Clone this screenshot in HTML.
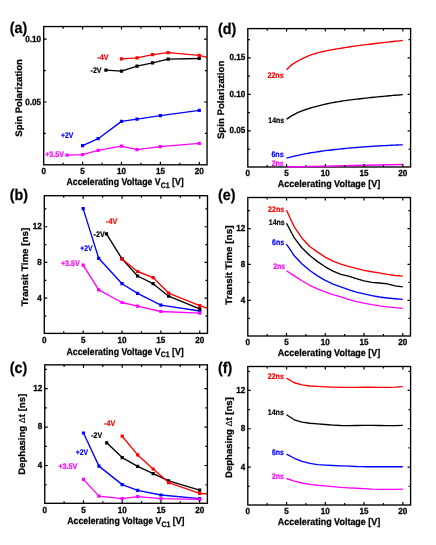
<!DOCTYPE html>
<html><head><meta charset="utf-8"><title>figure</title>
<style>html,body{margin:0;padding:0;background:#fff}svg{display:block;will-change:transform;text-rendering:geometricPrecision}text{font-family:"Liberation Sans",sans-serif;font-weight:bold}</style></head><body>
<svg width="436" height="545" viewBox="0 0 436 545">
<rect x="0" y="0" width="436" height="545" fill="#ffffff"/>
<g>
<polyline fill="none" stroke="#ff0000" stroke-width="1.35" stroke-linejoin="round" points="121.49,58.9 137.04,57.9 152.6,54.6 168.16,52.6 199.27,55.3 207.05,57.4"/>
<path d="M119.89 57.3h3.2v3.2h-3.2zM135.44 56.3h3.2v3.2h-3.2zM151 53h3.2v3.2h-3.2zM166.56 51h3.2v3.2h-3.2zM197.67 53.7h3.2v3.2h-3.2z" fill="#ff0000"/>
<polyline fill="none" stroke="#000000" stroke-width="1.35" stroke-linejoin="round" points="105.93,70.2 121.49,71.1 137.04,66.2 152.6,62.9 168.16,59.2 199.27,58.5"/>
<path d="M104.33 68.6h3.2v3.2h-3.2zM119.89 69.5h3.2v3.2h-3.2zM135.44 64.6h3.2v3.2h-3.2zM151 61.3h3.2v3.2h-3.2zM166.56 57.6h3.2v3.2h-3.2zM197.67 56.9h3.2v3.2h-3.2z" fill="#000000"/>
<polyline fill="none" stroke="#0000ff" stroke-width="1.35" stroke-linejoin="round" points="82.59,145.7 98.15,138.7 121.49,121.4 137.04,119.2 160.38,115.6 199.27,110.4"/>
<path d="M80.99 144.1h3.2v3.2h-3.2zM96.55 137.1h3.2v3.2h-3.2zM119.89 119.8h3.2v3.2h-3.2zM135.44 117.6h3.2v3.2h-3.2zM158.78 114h3.2v3.2h-3.2zM197.67 108.8h3.2v3.2h-3.2z" fill="#0000ff"/>
<polyline fill="none" stroke="#ff00ff" stroke-width="1.35" stroke-linejoin="round" points="67.04,155.2 82.59,154.6 98.15,150.3 121.49,146.2 137.04,149.7 160.38,146.7 199.27,143.3"/>
<path d="M65.44 153.6h3.2v3.2h-3.2zM80.99 153h3.2v3.2h-3.2zM96.55 148.7h3.2v3.2h-3.2zM119.89 144.6h3.2v3.2h-3.2zM135.44 148.1h3.2v3.2h-3.2zM158.78 145.1h3.2v3.2h-3.2zM197.67 141.7h3.2v3.2h-3.2z" fill="#ff00ff"/>
<text transform="translate(97.28 59.6) scale(0.889 1)" font-size="8.1" fill="#ff0000" stroke="#ff0000" stroke-width="0.2">-4V</text>
<text transform="translate(90.59 72.7) scale(0.872 1)" font-size="8.1" stroke="#000000" stroke-width="0.2">-2V</text>
<text transform="translate(60.89 138) scale(0.846 1)" font-size="8.1" fill="#0000ff" stroke="#0000ff" stroke-width="0.2">+2V</text>
<text transform="translate(45.19 157.2) scale(0.879 1)" font-size="8.1" fill="#ff00ff" stroke="#ff00ff" stroke-width="0.2">+3.5V</text>
<rect x="43.7" y="26.55" width="163.35" height="138.25" fill="none" stroke="#000" stroke-width="1.35"/>
<path d="M63.15 164.8v-2.1M63.15 26.55v2.1M82.59 164.8v-3M82.59 26.55v3M102.04 164.8v-2.1M102.04 26.55v2.1M121.49 164.8v-3M121.49 26.55v3M140.93 164.8v-2.1M140.93 26.55v2.1M160.38 164.8v-3M160.38 26.55v3M179.82 164.8v-2.1M179.82 26.55v2.1M199.27 164.8v-3M199.27 26.55v3M43.7 133.4h2.1M207.05 133.4h-2.1M43.7 102h3M207.05 102h-3M43.7 70.6h2.1M207.05 70.6h-2.1M43.7 39.2h3M207.05 39.2h-3" fill="none" stroke="#000" stroke-width="1.2"/>
<text transform="translate(43.7 174.1) scale(0.920 1)" font-size="8.8" text-anchor="middle" stroke="#000" stroke-width="0.3">0</text>
<text transform="translate(82.59 174.1) scale(0.920 1)" font-size="8.8" text-anchor="middle" stroke="#000" stroke-width="0.3">5</text>
<text transform="translate(121.49 174.1) scale(0.920 1)" font-size="8.8" text-anchor="middle" stroke="#000" stroke-width="0.3">10</text>
<text transform="translate(160.38 174.1) scale(0.920 1)" font-size="8.8" text-anchor="middle" stroke="#000" stroke-width="0.3">15</text>
<text transform="translate(199.27 174.1) scale(0.920 1)" font-size="8.8" text-anchor="middle" stroke="#000" stroke-width="0.3">20</text>
<text transform="translate(41.1 104.85) scale(0.920 1)" font-size="8.8" text-anchor="end" stroke="#000" stroke-width="0.3">0.05</text>
<text transform="translate(41.1 42.05) scale(0.920 1)" font-size="8.8" text-anchor="end" stroke="#000" stroke-width="0.3">0.10</text>
<text transform="translate(125.1 185.35) scale(0.894 1)" font-size="9.8" text-anchor="middle" stroke="#000" stroke-width="0.25">Accelerating Voltage V<tspan dy="2.9" font-size="7.84">C1</tspan><tspan dy="-2.9"> [V]</tspan></text>
<text transform="translate(21.8 97.9) rotate(-90) scale(1.018 1)" font-size="9.41" text-anchor="middle" stroke="#000" stroke-width="0.25">Spin Polarization</text>
<text transform="translate(9.8 33.3) scale(0.930 1)" font-size="15.4" stroke="#000" stroke-width="0.25">(a)</text>
</g>
<g>
<polyline fill="none" stroke="#0000ff" stroke-width="1.35" stroke-linejoin="round" points="83.16,208.6 98.7,258.3 122.01,283.7 137.56,293.4 160.87,305.1 199.73,311"/>
<path d="M81.56 207h3.2v3.2h-3.2zM97.1 256.7h3.2v3.2h-3.2zM120.41 282.1h3.2v3.2h-3.2zM135.96 291.8h3.2v3.2h-3.2zM159.27 303.5h3.2v3.2h-3.2zM198.13 309.4h3.2v3.2h-3.2z" fill="#0000ff"/>
<polyline fill="none" stroke="#ff00ff" stroke-width="1.35" stroke-linejoin="round" points="83.16,265.1 98.7,289.9 122.01,302.5 137.56,306.1 160.87,311.5 199.73,313.2"/>
<path d="M81.56 263.5h3.2v3.2h-3.2zM97.1 288.3h3.2v3.2h-3.2zM120.41 300.9h3.2v3.2h-3.2zM135.96 304.5h3.2v3.2h-3.2zM159.27 309.9h3.2v3.2h-3.2zM198.13 311.6h3.2v3.2h-3.2z" fill="#ff00ff"/>
<polyline fill="none" stroke="#000000" stroke-width="1.35" stroke-linejoin="round" points="106.47,233.9 122.01,258.9 137.56,276 153.1,283.7 168.64,296.2 199.73,308.9"/>
<path d="M104.87 232.3h3.2v3.2h-3.2zM120.41 257.3h3.2v3.2h-3.2zM135.96 274.4h3.2v3.2h-3.2zM151.5 282.1h3.2v3.2h-3.2zM167.04 294.6h3.2v3.2h-3.2zM198.13 307.3h3.2v3.2h-3.2z" fill="#000000"/>
<polyline fill="none" stroke="#ff0000" stroke-width="1.35" stroke-linejoin="round" points="122.01,259 137.56,271.5 153.1,277.6 168.64,293.1 199.73,305.7 207.5,308.4"/>
<path d="M120.41 257.4h3.2v3.2h-3.2zM135.96 269.9h3.2v3.2h-3.2zM151.5 276h3.2v3.2h-3.2zM167.04 291.5h3.2v3.2h-3.2zM198.13 304.1h3.2v3.2h-3.2z" fill="#ff0000"/>
<text transform="translate(105.98 223.6) scale(0.897 1)" font-size="8.1" fill="#ff0000" stroke="#ff0000" stroke-width="0.2">-4V</text>
<text transform="translate(93.48 236.8) scale(0.897 1)" font-size="8.1" stroke="#000000" stroke-width="0.2">-2V</text>
<text transform="translate(80.3 250.7) scale(0.839 1)" font-size="8.1" fill="#0000ff" stroke="#0000ff" stroke-width="0.2">+2V</text>
<text transform="translate(60.89 266.3) scale(0.879 1)" font-size="8.1" fill="#ff00ff" stroke="#ff00ff" stroke-width="0.2">+3.5V</text>
<rect x="44.3" y="195.7" width="163.2" height="137.7" fill="none" stroke="#000" stroke-width="1.35"/>
<path d="M63.73 333.4v-2.1M63.73 195.7v2.1M83.16 333.4v-3M83.16 195.7v3M102.59 333.4v-2.1M102.59 195.7v2.1M122.01 333.4v-3M122.01 195.7v3M141.44 333.4v-2.1M141.44 195.7v2.1M160.87 333.4v-3M160.87 195.7v3M180.3 333.4v-2.1M180.3 195.7v2.1M199.73 333.4v-3M199.73 195.7v3M44.3 316.04h2.1M207.5 316.04h-2.1M44.3 298.18h3M207.5 298.18h-3M44.3 280.32h2.1M207.5 280.32h-2.1M44.3 262.46h3M207.5 262.46h-3M44.3 244.6h2.1M207.5 244.6h-2.1M44.3 226.74h3M207.5 226.74h-3M44.3 208.88h2.1M207.5 208.88h-2.1" fill="none" stroke="#000" stroke-width="1.2"/>
<text transform="translate(44.3 342.7) scale(0.920 1)" font-size="8.8" text-anchor="middle" stroke="#000" stroke-width="0.3">0</text>
<text transform="translate(83.16 342.7) scale(0.920 1)" font-size="8.8" text-anchor="middle" stroke="#000" stroke-width="0.3">5</text>
<text transform="translate(122.01 342.7) scale(0.920 1)" font-size="8.8" text-anchor="middle" stroke="#000" stroke-width="0.3">10</text>
<text transform="translate(160.87 342.7) scale(0.920 1)" font-size="8.8" text-anchor="middle" stroke="#000" stroke-width="0.3">15</text>
<text transform="translate(199.73 342.7) scale(0.920 1)" font-size="8.8" text-anchor="middle" stroke="#000" stroke-width="0.3">20</text>
<text transform="translate(41.7 300.53) scale(0.920 1)" font-size="8.8" text-anchor="end" stroke="#000" stroke-width="0.3">4</text>
<text transform="translate(41.7 264.81) scale(0.920 1)" font-size="8.8" text-anchor="end" stroke="#000" stroke-width="0.3">8</text>
<text transform="translate(41.7 229.09) scale(0.920 1)" font-size="8.8" text-anchor="end" stroke="#000" stroke-width="0.3">12</text>
<text transform="translate(125.1 354.55) scale(0.894 1)" font-size="9.8" text-anchor="middle" stroke="#000" stroke-width="0.25">Accelerating Voltage V<tspan dy="2.9" font-size="7.84">C1</tspan><tspan dy="-2.9"> [V]</tspan></text>
<text transform="translate(27.9 266.9) rotate(-90) scale(1.045 1)" font-size="9.41" text-anchor="middle" stroke="#000" stroke-width="0.25">Transit Time [ns]</text>
<text transform="translate(9.8 200.2) scale(0.930 1)" font-size="15.4" stroke="#000" stroke-width="0.25">(b)</text>
</g>
<g>
<polyline fill="none" stroke="#0000ff" stroke-width="1.35" stroke-linejoin="round" points="83.48,433 98.97,466.1 122.2,484.6 137.69,490.3 160.93,495 199.65,498.6"/>
<path d="M81.88 431.4h3.2v3.2h-3.2zM97.37 464.5h3.2v3.2h-3.2zM120.6 483h3.2v3.2h-3.2zM136.09 488.7h3.2v3.2h-3.2zM159.33 493.4h3.2v3.2h-3.2zM198.05 497h3.2v3.2h-3.2z" fill="#0000ff"/>
<polyline fill="none" stroke="#ff00ff" stroke-width="1.35" stroke-linejoin="round" points="83.48,479.4 98.97,496.1 122.2,498.6 137.69,496.7 160.93,498.6 199.65,499.4"/>
<path d="M81.88 477.8h3.2v3.2h-3.2zM97.37 494.5h3.2v3.2h-3.2zM120.6 497h3.2v3.2h-3.2zM136.09 495.1h3.2v3.2h-3.2zM159.33 497h3.2v3.2h-3.2zM198.05 497.8h3.2v3.2h-3.2z" fill="#ff00ff"/>
<polyline fill="none" stroke="#000000" stroke-width="1.35" stroke-linejoin="round" points="106.71,442.8 122.2,457.6 137.69,466.3 153.18,473.6 168.67,480.8 199.65,490.1"/>
<path d="M105.11 441.2h3.2v3.2h-3.2zM120.6 456h3.2v3.2h-3.2zM136.09 464.7h3.2v3.2h-3.2zM151.58 472h3.2v3.2h-3.2zM167.07 479.2h3.2v3.2h-3.2zM198.05 488.5h3.2v3.2h-3.2z" fill="#000000"/>
<polyline fill="none" stroke="#ff0000" stroke-width="1.35" stroke-linejoin="round" points="122.2,436.2 137.69,454.9 153.18,469 168.67,482.6 199.65,493.4 207.4,494"/>
<path d="M120.6 434.6h3.2v3.2h-3.2zM136.09 453.3h3.2v3.2h-3.2zM151.58 467.4h3.2v3.2h-3.2zM167.07 481h3.2v3.2h-3.2zM198.05 491.8h3.2v3.2h-3.2z" fill="#ff0000"/>
<text transform="translate(104.09 425.6) scale(0.881 1)" font-size="8.1" fill="#ff0000" stroke="#ff0000" stroke-width="0.2">-4V</text>
<text transform="translate(91.29 438) scale(0.856 1)" font-size="8.1" stroke="#000000" stroke-width="0.2">-2V</text>
<text transform="translate(75.79 455.2) scale(0.846 1)" font-size="8.1" fill="#0000ff" stroke="#0000ff" stroke-width="0.2">+2V</text>
<text transform="translate(58.38 468.5) scale(0.888 1)" font-size="8.1" fill="#ff00ff" stroke="#ff00ff" stroke-width="0.2">+3.5V</text>
<rect x="44.75" y="364.85" width="162.65" height="138.45" fill="none" stroke="#000" stroke-width="1.35"/>
<path d="M64.11 503.3v-2.1M64.11 364.85v2.1M83.48 503.3v-3M83.48 364.85v3M102.84 503.3v-2.1M102.84 364.85v2.1M122.2 503.3v-3M122.2 364.85v3M141.57 503.3v-2.1M141.57 364.85v2.1M160.93 503.3v-3M160.93 364.85v3M180.29 503.3v-2.1M180.29 364.85v2.1M199.65 503.3v-3M199.65 364.85v3M44.75 484.73h2.1M207.4 484.73h-2.1M44.75 465.51h3M207.4 465.51h-3M44.75 446.29h2.1M207.4 446.29h-2.1M44.75 427.07h3M207.4 427.07h-3M44.75 407.85h2.1M207.4 407.85h-2.1M44.75 388.63h3M207.4 388.63h-3M44.75 369.41h2.1M207.4 369.41h-2.1" fill="none" stroke="#000" stroke-width="1.2"/>
<text transform="translate(44.75 512.6) scale(0.920 1)" font-size="8.8" text-anchor="middle" stroke="#000" stroke-width="0.3">0</text>
<text transform="translate(83.48 512.6) scale(0.920 1)" font-size="8.8" text-anchor="middle" stroke="#000" stroke-width="0.3">5</text>
<text transform="translate(122.2 512.6) scale(0.920 1)" font-size="8.8" text-anchor="middle" stroke="#000" stroke-width="0.3">10</text>
<text transform="translate(160.93 512.6) scale(0.920 1)" font-size="8.8" text-anchor="middle" stroke="#000" stroke-width="0.3">15</text>
<text transform="translate(199.65 512.6) scale(0.920 1)" font-size="8.8" text-anchor="middle" stroke="#000" stroke-width="0.3">20</text>
<text transform="translate(42.15 467.71) scale(0.920 1)" font-size="8.8" text-anchor="end" stroke="#000" stroke-width="0.3">4</text>
<text transform="translate(42.15 429.27) scale(0.920 1)" font-size="8.8" text-anchor="end" stroke="#000" stroke-width="0.3">8</text>
<text transform="translate(42.15 390.83) scale(0.920 1)" font-size="8.8" text-anchor="end" stroke="#000" stroke-width="0.3">12</text>
<text transform="translate(125.85 524.45) scale(0.892 1)" font-size="9.8" text-anchor="middle" stroke="#000" stroke-width="0.25">Accelerating Voltage V<tspan dy="2.9" font-size="7.84">C1</tspan><tspan dy="-2.9"> [V]</tspan></text>
<text transform="translate(25.25 434.3) rotate(-90) scale(1.020 1)" font-size="9.41" text-anchor="middle" stroke="#000" stroke-width="0.25">Dephasing <tspan font-weight="normal" font-size="8.66" stroke-width="0.1">Δ</tspan>t [ns]</text>
<text transform="translate(9.8 372.8) scale(0.930 1)" font-size="15.4" stroke="#000" stroke-width="0.25">(c)</text>
</g>
<g>
<polyline fill="none" stroke="#ff0000" stroke-width="1.35" stroke-linejoin="round" points="286.56,69.7 288.5,67.67 290.44,65.88 292.38,64.39 294.31,63.08 296.25,61.89 298.19,60.78 300.13,59.75 302.07,58.78 304,57.88 305.94,57.02 307.88,56.19 309.82,55.42 311.76,54.72 313.7,54.08 315.63,53.48 317.57,52.93 319.51,52.42 321.45,51.96 323.39,51.52 325.32,51.1 327.26,50.68 329.2,50.28 331.14,49.9 333.08,49.55 335.01,49.23 336.95,48.92 338.89,48.61 340.83,48.29 342.77,47.96 344.7,47.64 346.64,47.32 348.58,47.01 350.52,46.72 352.46,46.45 354.4,46.18 356.33,45.92 358.27,45.66 360.21,45.41 362.15,45.16 364.09,44.92 366.02,44.68 367.96,44.44 369.9,44.21 371.84,43.98 373.78,43.74 375.71,43.51 377.65,43.28 379.59,43.05 381.53,42.82 383.47,42.6 385.4,42.37 387.34,42.15 389.28,41.93 391.22,41.71 393.16,41.5 395.1,41.28 397.03,41.07 398.97,40.86 400.91,40.66 402.85,40.45"/>
<polyline fill="none" stroke="#000000" stroke-width="1.35" stroke-linejoin="round" points="286.56,119.3 288.5,117.88 290.44,116.59 292.38,115.43 294.31,114.36 296.25,113.38 298.19,112.48 300.13,111.65 302.07,110.89 304,110.17 305.94,109.5 307.88,108.86 309.82,108.26 311.76,107.68 313.7,107.12 315.63,106.59 317.57,106.07 319.51,105.57 321.45,105.07 323.39,104.6 325.32,104.15 327.26,103.73 329.2,103.34 331.14,102.96 333.08,102.59 335.01,102.24 336.95,101.89 338.89,101.56 340.83,101.24 342.77,100.94 344.7,100.65 346.64,100.38 348.58,100.13 350.52,99.88 352.46,99.65 354.4,99.41 356.33,99.18 358.27,98.96 360.21,98.73 362.15,98.51 364.09,98.3 366.02,98.09 367.96,97.88 369.9,97.67 371.84,97.47 373.78,97.27 375.71,97.08 377.65,96.88 379.59,96.7 381.53,96.51 383.47,96.33 385.4,96.14 387.34,95.97 389.28,95.79 391.22,95.62 393.16,95.45 395.1,95.28 397.03,95.12 398.97,94.96 400.91,94.8 402.85,94.65"/>
<polyline fill="none" stroke="#0000ff" stroke-width="1.35" stroke-linejoin="round" points="286.56,158.1 288.5,157.61 290.44,157.12 292.38,156.65 294.31,156.19 296.25,155.74 298.19,155.3 300.13,154.87 302.07,154.46 304,154.07 305.94,153.69 307.88,153.33 309.82,152.99 311.76,152.67 313.7,152.36 315.63,152.07 317.57,151.77 319.51,151.49 321.45,151.22 323.39,150.95 325.32,150.7 327.26,150.45 329.2,150.21 331.14,149.97 333.08,149.75 335.01,149.53 336.95,149.31 338.89,149.11 340.83,148.91 342.77,148.72 344.7,148.53 346.64,148.34 348.58,148.16 350.52,147.99 352.46,147.82 354.4,147.65 356.33,147.49 358.27,147.34 360.21,147.18 362.15,147.04 364.09,146.89 366.02,146.76 367.96,146.62 369.9,146.49 371.84,146.37 373.78,146.25 375.71,146.13 377.65,146.01 379.59,145.9 381.53,145.79 383.47,145.68 385.4,145.58 387.34,145.48 389.28,145.38 391.22,145.29 393.16,145.19 395.1,145.11 397.03,145.02 398.97,144.95 400.91,144.87 402.85,144.8"/>
<text transform="translate(267.38 77.9) scale(0.888 1)" font-size="8.1" fill="#ff0000" stroke="#ff0000" stroke-width="0.2">22ns</text>
<text transform="translate(268.29 122.6) scale(0.855 1)" font-size="8.1" stroke="#000000" stroke-width="0.2">14ns</text>
<text transform="translate(271.39 156.8) scale(0.881 1)" font-size="8.1" fill="#0000ff" stroke="#0000ff" stroke-width="0.2">6ns</text>
<text transform="translate(271.69 166.3) scale(0.866 1)" font-size="8.1" fill="#ff00ff" stroke="#ff00ff" stroke-width="0.2">2ns</text>
<rect x="247.8" y="28.6" width="162.8" height="138.4" fill="none" stroke="#000" stroke-width="1.35"/>
<polyline fill="none" stroke="#ff00ff" stroke-width="1.5" points="286.56,166.9 325.32,166.2 364.09,165.2 402.85,164.5"/>
<path d="M267.18 167v-2.1M267.18 28.6v2.1M286.56 167v-3M286.56 28.6v3M305.94 167v-2.1M305.94 28.6v2.1M325.32 167v-3M325.32 28.6v3M344.7 167v-2.1M344.7 28.6v2.1M364.09 167v-3M364.09 28.6v3M383.47 167v-2.1M383.47 28.6v2.1M402.85 167v-3M402.85 28.6v3M247.8 149.05h2.1M410.6 149.05h-2.1M247.8 130.8h3M410.6 130.8h-3M247.8 112.55h2.1M410.6 112.55h-2.1M247.8 94.3h3M410.6 94.3h-3M247.8 76.05h2.1M410.6 76.05h-2.1M247.8 57.8h3M410.6 57.8h-3M247.8 39.55h2.1M410.6 39.55h-2.1" fill="none" stroke="#000" stroke-width="1.2"/>
<text transform="translate(247.8 176.3) scale(0.920 1)" font-size="8.8" text-anchor="middle" stroke="#000" stroke-width="0.3">0</text>
<text transform="translate(286.56 176.3) scale(0.920 1)" font-size="8.8" text-anchor="middle" stroke="#000" stroke-width="0.3">5</text>
<text transform="translate(325.32 176.3) scale(0.920 1)" font-size="8.8" text-anchor="middle" stroke="#000" stroke-width="0.3">10</text>
<text transform="translate(364.09 176.3) scale(0.920 1)" font-size="8.8" text-anchor="middle" stroke="#000" stroke-width="0.3">15</text>
<text transform="translate(402.85 176.3) scale(0.920 1)" font-size="8.8" text-anchor="middle" stroke="#000" stroke-width="0.3">20</text>
<text transform="translate(245.2 133.35) scale(0.920 1)" font-size="8.8" text-anchor="end" stroke="#000" stroke-width="0.3">0.05</text>
<text transform="translate(245.2 96.85) scale(0.920 1)" font-size="8.8" text-anchor="end" stroke="#000" stroke-width="0.3">0.10</text>
<text transform="translate(245.2 60.35) scale(0.920 1)" font-size="8.8" text-anchor="end" stroke="#000" stroke-width="0.3">0.15</text>
<text transform="translate(329.05 186.75) scale(0.915 1)" font-size="9.8" text-anchor="middle" stroke="#000" stroke-width="0.25">Accelerating Voltage [V]</text>
<text transform="translate(224.1 99.9) rotate(-90) scale(1.028 1)" font-size="9.41" text-anchor="middle" stroke="#000" stroke-width="0.25">Spin Polarization</text>
<text transform="translate(217.9 33.8) scale(0.930 1)" font-size="15.4" stroke="#000" stroke-width="0.25">(d)</text>
</g>
<g>
<polyline fill="none" stroke="#ff0000" stroke-width="1.35" stroke-linejoin="round" points="286.54,210.3 294.29,226.9 302.03,238.2 309.78,246.42 317.53,252.15 325.28,257.08 333.02,261.17 340.77,264.06 348.52,266.35 356.27,268.3 364.01,270.3 371.76,271.75 379.51,272.93 387.26,274.42 395,275.49 402.75,276.2"/>
<polyline fill="none" stroke="#000000" stroke-width="1.35" stroke-linejoin="round" points="286.54,223.2 294.29,237.95 302.03,248.03 309.78,255.47 317.53,261.64 325.28,266.79 333.02,271.07 340.77,274.33 348.52,276.08 356.27,278.61 364.01,280.82 371.76,282.4 379.51,283.04 387.26,283.88 395,285.9 402.75,286.8"/>
<polyline fill="none" stroke="#0000ff" stroke-width="1.35" stroke-linejoin="round" points="286.54,244.2 294.29,255.8 302.03,264.04 309.78,270.43 317.53,275.88 325.28,280.38 333.02,284.07 340.77,286.94 348.52,289.69 356.27,292.2 364.01,293.93 371.76,295.57 379.51,297.02 387.26,297.98 395,298.76 402.75,299.4"/>
<polyline fill="none" stroke="#ff00ff" stroke-width="1.35" stroke-linejoin="round" points="286.54,270.7 294.29,275.82 302.03,280.71 309.78,285.28 317.53,288.88 325.28,291.96 333.02,294.65 340.77,296.94 348.52,299.3 356.27,301.59 364.01,303.19 371.76,304.64 379.51,305.91 387.26,306.88 395,307.66 402.75,308.3"/>
<text transform="translate(268.09 212.4) scale(0.872 1)" font-size="8.1" fill="#ff0000" stroke="#ff0000" stroke-width="0.2">22ns</text>
<text transform="translate(268.79 224.8) scale(0.855 1)" font-size="8.1" stroke="#000000" stroke-width="0.2">14ns</text>
<text transform="translate(271.99 244.6) scale(0.874 1)" font-size="8.1" fill="#0000ff" stroke="#0000ff" stroke-width="0.2">6ns</text>
<text transform="translate(273.19 268.8) scale(0.859 1)" font-size="8.1" fill="#ff00ff" stroke="#ff00ff" stroke-width="0.2">2ns</text>
<rect x="247.8" y="197.5" width="162.7" height="138.5" fill="none" stroke="#000" stroke-width="1.35"/>
<path d="M267.17 336v-2.1M267.17 197.5v2.1M286.54 336v-3M286.54 197.5v3M305.91 336v-2.1M305.91 197.5v2.1M325.28 336v-3M325.28 197.5v3M344.65 336v-2.1M344.65 197.5v2.1M364.01 336v-3M364.01 197.5v3M383.38 336v-2.1M383.38 197.5v2.1M402.75 336v-3M402.75 197.5v3M247.8 318.34h2.1M410.5 318.34h-2.1M247.8 300.38h3M410.5 300.38h-3M247.8 282.42h2.1M410.5 282.42h-2.1M247.8 264.46h3M410.5 264.46h-3M247.8 246.5h2.1M410.5 246.5h-2.1M247.8 228.54h3M410.5 228.54h-3M247.8 210.58h2.1M410.5 210.58h-2.1" fill="none" stroke="#000" stroke-width="1.2"/>
<text transform="translate(247.8 345.3) scale(0.920 1)" font-size="8.8" text-anchor="middle" stroke="#000" stroke-width="0.3">0</text>
<text transform="translate(286.54 345.3) scale(0.920 1)" font-size="8.8" text-anchor="middle" stroke="#000" stroke-width="0.3">5</text>
<text transform="translate(325.28 345.3) scale(0.920 1)" font-size="8.8" text-anchor="middle" stroke="#000" stroke-width="0.3">10</text>
<text transform="translate(364.01 345.3) scale(0.920 1)" font-size="8.8" text-anchor="middle" stroke="#000" stroke-width="0.3">15</text>
<text transform="translate(402.75 345.3) scale(0.920 1)" font-size="8.8" text-anchor="middle" stroke="#000" stroke-width="0.3">20</text>
<text transform="translate(245.2 302.93) scale(0.920 1)" font-size="8.8" text-anchor="end" stroke="#000" stroke-width="0.3">4</text>
<text transform="translate(245.2 267.01) scale(0.920 1)" font-size="8.8" text-anchor="end" stroke="#000" stroke-width="0.3">8</text>
<text transform="translate(245.2 231.09) scale(0.920 1)" font-size="8.8" text-anchor="end" stroke="#000" stroke-width="0.3">12</text>
<text transform="translate(329.05 355.75) scale(0.915 1)" font-size="9.8" text-anchor="middle" stroke="#000" stroke-width="0.25">Accelerating Voltage [V]</text>
<text transform="translate(232.2 265.1) rotate(-90) scale(1.053 1)" font-size="9.41" text-anchor="middle" stroke="#000" stroke-width="0.25">Transit Time [ns]</text>
<text transform="translate(217.9 200) scale(0.930 1)" font-size="15.4" stroke="#000" stroke-width="0.25">(e)</text>
</g>
<g>
<polyline fill="none" stroke="#ff0000" stroke-width="1.35" stroke-linejoin="round" points="286.56,378.1 294.31,382.74 302.07,384.93 309.82,385.96 317.57,386.34 325.32,386.81 333.08,387.13 340.83,387.35 348.58,387.39 356.33,387.32 364.09,387.23 371.84,387.2 379.59,387.32 387.34,387.4 395.1,387.18 402.85,386.7"/>
<polyline fill="none" stroke="#000000" stroke-width="1.35" stroke-linejoin="round" points="286.56,414.8 294.31,419.79 302.07,422.05 309.82,423.24 317.57,423.9 325.32,424.52 333.08,425.07 340.83,425.51 348.58,425.59 356.33,425.52 364.09,425.43 371.84,425.4 379.59,425.52 387.34,425.6 395.1,425.55 402.85,425.4"/>
<polyline fill="none" stroke="#0000ff" stroke-width="1.35" stroke-linejoin="round" points="286.56,454.1 294.31,458.26 302.07,461.3 309.82,463.34 317.57,464.59 325.32,465.12 333.08,465.49 340.83,465.81 348.58,466.13 356.33,466.51 364.09,466.7 371.84,466.7 379.59,466.7 387.34,466.7 395.1,466.7 402.85,466.7"/>
<polyline fill="none" stroke="#ff00ff" stroke-width="1.35" stroke-linejoin="round" points="286.56,478.5 294.31,481.15 302.07,483 309.82,484.32 317.57,485.28 325.32,485.93 333.08,486.64 340.83,487.35 348.58,487.87 356.33,488.24 364.09,488.59 371.84,489.12 379.59,489.4 387.34,489.39 395.1,489.34 402.85,489.2"/>
<text transform="translate(267.69 378.9) scale(0.877 1)" font-size="8.1" fill="#ff0000" stroke="#ff0000" stroke-width="0.2">22ns</text>
<text transform="translate(267.69 415.1) scale(0.877 1)" font-size="8.1" stroke="#000000" stroke-width="0.2">14ns</text>
<text transform="translate(271.89 454.6) scale(0.859 1)" font-size="8.1" fill="#0000ff" stroke="#0000ff" stroke-width="0.2">6ns</text>
<text transform="translate(271.89 479) scale(0.859 1)" font-size="8.1" fill="#ff00ff" stroke="#ff00ff" stroke-width="0.2">2ns</text>
<rect x="247.8" y="366.5" width="162.8" height="138.5" fill="none" stroke="#000" stroke-width="1.35"/>
<path d="M267.18 505v-2.1M267.18 366.5v2.1M286.56 505v-3M286.56 366.5v3M305.94 505v-2.1M305.94 366.5v2.1M325.32 505v-3M325.32 366.5v3M344.7 505v-2.1M344.7 366.5v2.1M364.09 505v-3M364.09 366.5v3M383.47 505v-2.1M383.47 366.5v2.1M402.85 505v-3M402.85 366.5v3M247.8 486.24h2.1M410.6 486.24h-2.1M247.8 467.08h3M410.6 467.08h-3M247.8 447.92h2.1M410.6 447.92h-2.1M247.8 428.76h3M410.6 428.76h-3M247.8 409.6h2.1M410.6 409.6h-2.1M247.8 390.44h3M410.6 390.44h-3M247.8 371.28h2.1M410.6 371.28h-2.1" fill="none" stroke="#000" stroke-width="1.2"/>
<text transform="translate(247.8 514.3) scale(0.920 1)" font-size="8.8" text-anchor="middle" stroke="#000" stroke-width="0.3">0</text>
<text transform="translate(286.56 514.3) scale(0.920 1)" font-size="8.8" text-anchor="middle" stroke="#000" stroke-width="0.3">5</text>
<text transform="translate(325.32 514.3) scale(0.920 1)" font-size="8.8" text-anchor="middle" stroke="#000" stroke-width="0.3">10</text>
<text transform="translate(364.09 514.3) scale(0.920 1)" font-size="8.8" text-anchor="middle" stroke="#000" stroke-width="0.3">15</text>
<text transform="translate(402.85 514.3) scale(0.920 1)" font-size="8.8" text-anchor="middle" stroke="#000" stroke-width="0.3">20</text>
<text transform="translate(245.2 469.53) scale(0.920 1)" font-size="8.8" text-anchor="end" stroke="#000" stroke-width="0.3">4</text>
<text transform="translate(245.2 431.21) scale(0.920 1)" font-size="8.8" text-anchor="end" stroke="#000" stroke-width="0.3">8</text>
<text transform="translate(245.2 392.89) scale(0.920 1)" font-size="8.8" text-anchor="end" stroke="#000" stroke-width="0.3">12</text>
<text transform="translate(329.05 524.75) scale(0.915 1)" font-size="9.8" text-anchor="middle" stroke="#000" stroke-width="0.25">Accelerating Voltage [V]</text>
<text transform="translate(231.6 437.6) rotate(-90) scale(1.015 1)" font-size="9.41" text-anchor="middle" stroke="#000" stroke-width="0.25">Dephasing <tspan font-weight="normal" font-size="8.66" stroke-width="0.1">Δ</tspan>t [ns]</text>
<text transform="translate(217.9 372.8) scale(0.930 1)" font-size="15.4" stroke="#000" stroke-width="0.25">(f)</text>
</g>
</svg></body></html>
